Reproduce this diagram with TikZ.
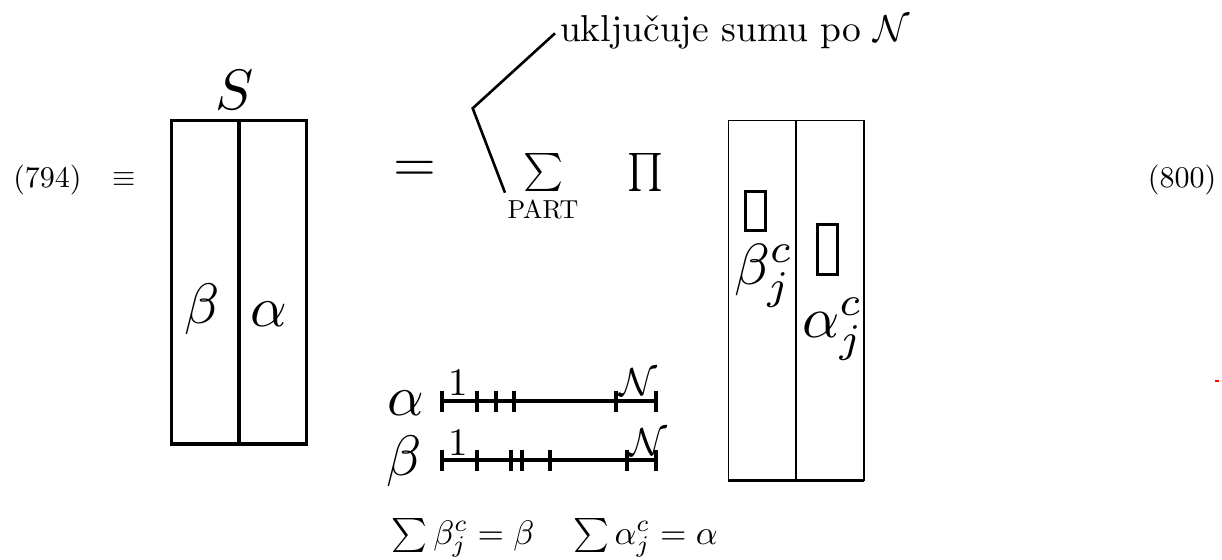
\documentclass[tikz,border=0pt]{standalone}
\begin{document}
\begin{tikzpicture}[x=1pt,y=-1pt,
  txt/.style={inner sep=0pt,outer sep=0pt},
  sz/.style={scale=#1,transform shape},
  thickbox/.style={line width=3.3pt},
  thinbox/.style={line width=1.3pt},
  numline/.style={line width=3.8pt},
  tick/.style={line width=4pt},
  leader/.style={line width=2.6pt}]
\useasboundingbox (0,0) rectangle (1222,559);
% equation numbers
\node[txt,sz=3.0] (eqL) at (47.5,180) {(794)};
\node[txt,sz=3.0] (equiv) at (124,180) {$\equiv$};
\node[txt,sz=3.0] (eqR) at (1182,180) {(800)};
% left box
\draw[thickbox] (171.7,120.7) rectangle (306.7,444);
\draw[thickbox] (239,120.7) -- (239,444);
\node[txt,sz=5.7] (S) at (235,90) {$S$};
\node[txt,sz=5.7] (bL) at (201.7,309) {$\beta$};
\node[txt,sz=5.7] (aL) at (269,314) {$\alpha$};
% equals, sum, prod
\node[txt,sz=5.5] (eq) at (415,171) {$=$};
\node[txt,sz=3.8] (sum) at (544,172) {$\textstyle\sum$};
\node[txt,sz=2.6] (part) at (543,209) {PART};
\node[txt,sz=3.8] (prod) at (645,172) {$\textstyle\prod$};
\node[txt,sz=3.75,anchor=base west] (note) at (560,42) {uklju\v{c}uje sumu po $\mathcal{N}$};
\coordinate (ls) at (505,192.7);
\coordinate (lb) at (472.7,108.3);
\coordinate (le) at (555,33.3);
\draw[leader] (ls) -- (lb) -- (le);
% right box
\draw[thinbox] (728.3,120.7) rectangle (864,480.7);
\draw[thinbox] (796,120.7) -- (796,480.7);
\draw[line width=2.5pt] (728.3,480.7) -- (864,480.7);
\draw[line width=3pt] (745,191.7) rectangle (765,230);
\draw[line width=3pt] (817.3,224.3) rectangle (837.3,274);
\node[txt,sz=5.8,anchor=base west] (bR) at (734,284) {$\beta^c_j$};
\node[txt,sz=5.8,anchor=base west] (aR) at (802,337) {$\alpha^c_j$};
% number lines
\node[txt,sz=5.7,anchor=base] (aN) at (406,415) {$\alpha$};
\node[txt,sz=5.7,anchor=base] (bN) at (404,475) {$\beta$};
\coordinate (a0) at (440,401);
\coordinate (a1) at (658,401);
\coordinate (b0) at (440,460);
\coordinate (b1) at (658,460);
\draw[numline] (a0) -- (a1);
\draw[numline] (b0) -- (b1);
\foreach \x in {442,477.3,495.7,514,615.5,656}
  \draw[tick] (\x,390.5) -- (\x,411.5);
\foreach \x in {442,477.3,510.7,522.3,550,627.3,656}
  \draw[tick] (\x,449.5) -- (\x,470.5);
\node[txt,sz=3.9,anchor=base] (a1l) at (458,395) {1};
\node[txt,sz=3.9,anchor=base] (b1l) at (458,455) {1};
\node[txt,sz=3.9,anchor=base] (aNl) at (638,395) {$\mathcal{N}$};
\node[txt,sz=3.9,anchor=base] (bNl) at (648,455) {$\mathcal{N}$};
% bottom formula
\node[txt,sz=3.4,anchor=base west] (sb) at (391.7,544) {$\sum\beta^c_j=\beta$};
\node[txt,sz=3.4,anchor=base west] (sa) at (573,544) {$\sum\alpha^c_j=\alpha$};
% red mark
\coordinate (r0) at (1215,381);
\coordinate (r1) at (1218.5,381);
\draw[red,line width=1.5pt] (r0) -- (r1);
\end{tikzpicture}
\end{document}
